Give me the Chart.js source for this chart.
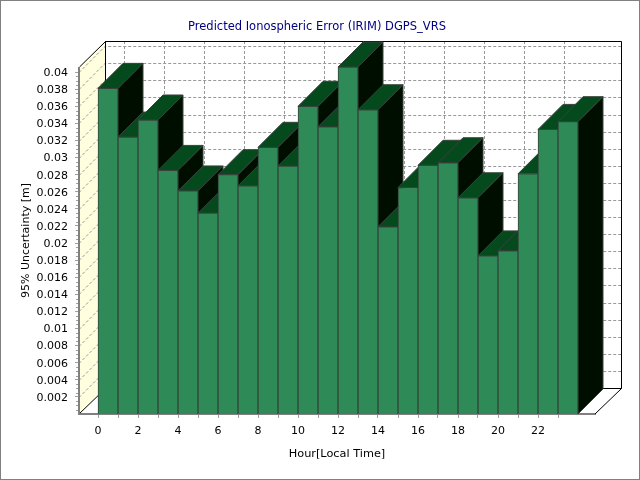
<!DOCTYPE html>
<html>
<head>
<meta charset="utf-8">
<style>
	html, body { margin: 0; padding: 0; background: #fff; }
	#wrap { width: 638px; height: 478px; border: 1px solid #808080; }
	canvas { display: block; margin: -1px; }
</style>
<script src="https://cdn.jsdelivr.net/npm/chart.js@4"></script>
</head>
<body>
<div id="wrap"><canvas id="chart" width="640" height="480"></canvas></div>
<script>
var hours = [0, 1, 2, 3, 4, 5, 6, 7, 8, 9, 10, 11, 12, 13, 14, 15, 16, 17, 18, 19, 20, 21, 22, 23];
var uncertainty = [0.0381, 0.0324, 0.0344, 0.0285, 0.0261, 0.0235, 0.0280, 0.0267, 0.0312, 0.0290, 0.0360, 0.0336,
	0.0406, 0.0356, 0.0219, 0.0265, 0.0291, 0.0294, 0.0253, 0.0185, 0.0191, 0.0281, 0.0333, 0.0342];
var yTicks = [0.002, 0.004, 0.006, 0.008, 0.01, 0.012, 0.014, 0.016, 0.018, 0.02,
	0.022, 0.024, 0.026, 0.028, 0.03, 0.032, 0.034, 0.036, 0.038, 0.04];
var xTickLabels = [0, 2, 4, 6, 8, 10, 12, 14, 16, 18, 20, 22];

var DEPTH = 26;
var BAR_DEPTH = 25;
var FONT = '"DejaVu Sans"';
var EDGE = '#38423C';

var face = function(ctx, points, fill, stroke) {
	ctx.beginPath();
	points.forEach(function(p, i) {
		if (i === 0) ctx.moveTo(p[0], p[1]); else ctx.lineTo(p[0], p[1]);
	});
	ctx.closePath();
	ctx.fillStyle = fill;
	ctx.fill();
	if (stroke) {
		ctx.strokeStyle = stroke;
		ctx.lineWidth = 1;
		ctx.stroke();
	}
};

// top and side of each bar go under the front face, bars paint left to right
var drawFront = Chart.BarElement.prototype.draw;
Chart.BarElement.prototype.draw = function(ctx) {
	var l = this.x - this.width / 2, r = this.x + this.width / 2, t = this.y, b = this.base;
	var d = BAR_DEPTH;
	face(ctx, [[l, t], [l + d, t - d], [r + d, t - d], [r, t]], '#044A1C', EDGE);
	face(ctx, [[r, t], [r + d, t - d], [r + d, b - d], [r, b]], '#000E00', EDGE);
	drawFront.call(this, ctx);
};

var box3d = {
	id: 'box3d',
	afterLayout: function(chart) {
		// title sits over the full picture, not over the plot
		chart.titleBlock.left += 39;
	},
	beforeDatasetsDraw: function(chart) {
		var ctx = chart.ctx, a = chart.chartArea, x = chart.scales.x, y = chart.scales.y;
		var fl = a.left, fr = a.right, fb = a.bottom, ft = a.top;
		var bl = fl + DEPTH, br = fr + DEPTH, bb = fb - DEPTH, bt = ft - DEPTH;
		ctx.save();
		// left wall
		face(ctx, [[fl, ft], [bl, bt], [bl, bb], [fl, fb]], '#FFFFE0');
		ctx.lineWidth = 1;
		ctx.strokeStyle = '#989898';
		ctx.setLineDash([3, 2]);
		ctx.beginPath();
		yTicks.forEach(function(v) {
			var py = Math.round(y.getPixelForValue(v)) + 0.5;
			ctx.moveTo(fl, py);
			ctx.lineTo(bl, py - DEPTH);
			ctx.lineTo(br, py - DEPTH);
		});
		xTickLabels.forEach(function(v) {
			var px = Math.round(x.getPixelForValue(v)) + DEPTH + 0.5;
			ctx.moveTo(px, bt);
			ctx.lineTo(px, bb);
		});
		ctx.stroke();
		ctx.setLineDash([]);
		// black frame of the box
		ctx.strokeStyle = '#000';
		ctx.beginPath();
		ctx.moveTo(fl + 0.5, ft);
		ctx.lineTo(bl + 0.5, bt + 0.5);
		ctx.lineTo(br + 0.5, bt + 0.5);
		ctx.lineTo(br + 0.5, bb + 0.5);
		ctx.lineTo(fr, fb);
		ctx.moveTo(bl + 0.5, bt);
		ctx.lineTo(bl + 0.5, bb + 0.5);
		ctx.lineTo(br + 0.5, bb + 0.5);
		ctx.moveTo(bl + 0.5, bb + 0.5);
		ctx.lineTo(fl, fb);
		ctx.stroke();
		// y axis line and its small ticks between the labelled ones
		ctx.strokeStyle = '#A0A0A0';
		ctx.beginPath();
		for (var i = 1; i < yTicks.length * 4; i++) {
			if (i % 4 !== 0) {
				var py = Math.round(y.getPixelForValue(yTicks[0] * i / 4)) + 0.5;
				ctx.moveTo(fl - 3, py);
				ctx.lineTo(fl, py);
			}
		}
		ctx.stroke();
		ctx.strokeStyle = '#808080';
		ctx.lineWidth = 2;
		ctx.beginPath();
		ctx.moveTo(fl, ft);
		ctx.lineTo(fl, fb);
		ctx.stroke();
		ctx.restore();
	}
};

var ctx = document.getElementById('chart');
var myChart = new Chart(ctx, {
	type: 'bar',
	data: {
		datasets: [{
			data: hours.map(function(h, i) {
				return { x: h + 0.5, y: uncertainty[i] };
			}),
			backgroundColor: '#2E8B57',
			borderColor: EDGE,
			borderWidth: 1,
			barThickness: 20,
			clip: false
		}]
	},
	options: {
		responsive: false,
		animation: false,
		layout: { padding: { left: 0, right: 45, top: 0, bottom: 0 } },
		plugins: {
			legend: { display: false },
			tooltip: { enabled: false },
			title: {
				display: true,
				text: 'Predicted Ionospheric Error (IRIM) DGPS_VRS',
				color: '#000080',
				font: { family: FONT, size: 11.5, weight: 'normal' },
				padding: { top: 20, bottom: 33.2 }
			}
		},
		scales: {
			x: {
				type: 'linear',
				offset: false,
				min: -0.95,
				max: 24.85,
				afterBuildTicks: function(scale) {
					scale.ticks = hours.map(function(h) { return { value: h }; });
				},
				afterFit: function(scale) { scale.height = 66; },
				grid: { drawOnChartArea: false, offset: false, tickLength: 4, color: '#A0A0A0' },
				border: { color: '#808080', width: 2 },
				ticks: {
					autoSkip: false,
					maxRotation: 0,
					padding: 7,
					color: '#000',
					font: { family: FONT, size: 11 },
					callback: function(v) {
						return xTickLabels.indexOf(v) >= 0 ? String(v) : '';
					}
				},
				title: {
					display: true,
					text: 'Hour[Local Time]',
					color: '#000',
					font: { family: FONT, size: 11.3 },
					padding: { top: 10, bottom: 19 }
				}
			},
			y: {
				min: 0,
				max: 0.0406,
				afterBuildTicks: function(scale) {
					scale.ticks = yTicks.map(function(v) { return { value: v }; });
				},
				afterFit: function(scale) { scale.width = 79; },
				grid: { drawOnChartArea: false, tickLength: 4, color: '#A0A0A0' },
				border: { display: false },
				ticks: {
					autoSkip: false,
					padding: 7,
					labelOffset: 1,
					color: '#000',
					font: { family: FONT, size: 11 },
					callback: function(v) { return String(v); }
				},
				title: {
					display: true,
					text: '95% Uncertainty [m]',
					color: '#000',
					font: { family: FONT, size: 11 },
					padding: { top: 20, bottom: 0 }
				}
			}
		}
	},
	plugins: [box3d]
});
</script>
</body>
</html>
